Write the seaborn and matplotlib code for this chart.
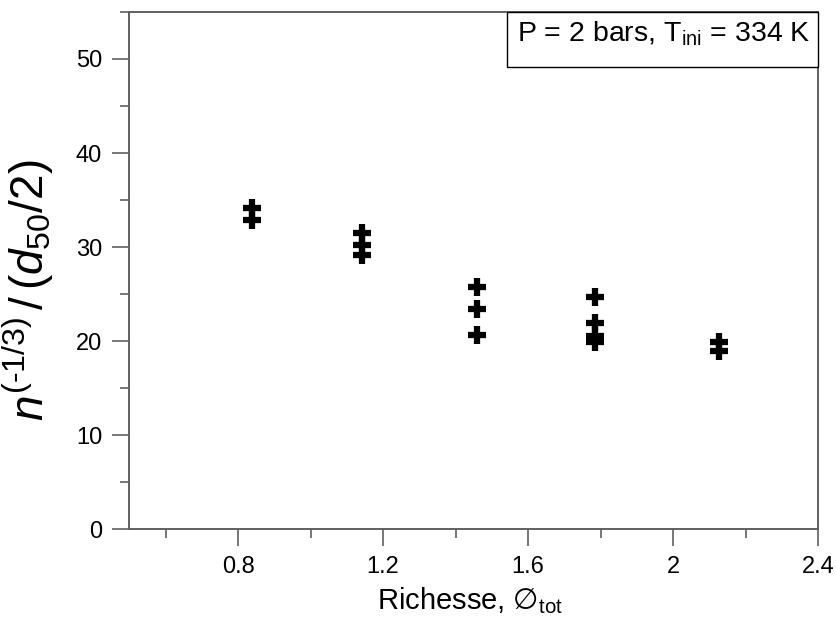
import numpy as np
import pandas as pd
import seaborn as sns
import matplotlib.pyplot as plt
from matplotlib.patches import Rectangle
from matplotlib.ticker import MultipleLocator, FixedLocator

# Values
richesse = [0.838, 0.838,
            1.142, 1.142, 1.142,
            1.458, 1.458, 1.458,
            1.785, 1.785, 1.785, 1.785,
            2.128, 2.128]
rapport = [34.1, 32.9,
           31.5, 30.2, 29.2,
           25.7, 23.4, 20.6,
           24.7, 21.9, 20.5, 19.9,
           19.9, 18.9]
x_ticks = [0.8, 1.2, 1.6, 2.0, 2.4]
x_tick_labels = ['0.8', '1.2', '1.6', '2', '2.4']
x_minor = [0.6, 1.0, 1.4, 1.8, 2.2]
y_ticks = [0, 10, 20, 30, 40, 50]

df = pd.DataFrame({'richesse': richesse, 'rapport': rapport})

sns.set_theme(style='white')
plt.rcParams['font.family'] = ['Liberation Sans', 'DejaVu Sans']
plt.rcParams['mathtext.fontset'] = 'custom'
plt.rcParams['mathtext.rm'] = 'Liberation Sans'
plt.rcParams['mathtext.it'] = 'Liberation Sans:italic'
plt.rcParams['mathtext.bf'] = 'Liberation Sans:bold'
plt.rcParams['mathtext.sf'] = 'DejaVu Sans'
plt.rcParams['text.color'] = 'black'
plt.rcParams['axes.labelcolor'] = 'black'

fig = plt.figure(figsize=(8.36, 6.28), dpi=100)
ax = fig.add_axes([0.1547, 0.1576, 0.8238, 0.8233])

# Draw the points
sns.scatterplot(data=df, x='richesse', y='rapport', marker='+', s=150,
                color='black', linewidth=4.5, ax=ax, legend=False)

ax.set_xlim(0.5, 2.4)
ax.set_ylim(0, 55)

gris = '#606060'
for sp in ax.spines.values():
    sp.set_visible(True)
    sp.set_color(gris)
    sp.set_linewidth(1.4)

ax.set_xticks(x_ticks)
ax.set_xticklabels(x_tick_labels)
ax.xaxis.set_minor_locator(FixedLocator(x_minor))
ax.set_yticks(y_ticks)
ax.yaxis.set_minor_locator(MultipleLocator(5))
ax.tick_params(which='major', direction='out', length=12.5, width=1.2,
               color=gris, labelsize=17, labelcolor='black')
ax.tick_params(axis='x', which='major', pad=7)
ax.tick_params(axis='y', which='major', pad=7)
ax.tick_params(which='minor', direction='out', length=6.3, width=1.2,
               color=gris, bottom=True, left=True)
ax.tick_params(bottom=True, left=True, top=False, right=False)

ax.set_xlabel(r'Richesse, $\mathsf{∅}_{\rm tot}$', fontsize=21)
ax.xaxis.set_label_coords(0.495, -0.108)
ax.set_ylabel(r'$\mathit{n^{(‐1/3)}\,/\,(d_{50}/2)}$', fontsize=33)
ax.yaxis.set_label_coords(-0.106, 0.462)

# Legend box in the top right corner
ax.add_patch(Rectangle((0.548, 0.894), 0.452, 0.106, transform=ax.transAxes,
                       facecolor='white', edgecolor='black', linewidth=1.0,
                       zorder=5, clip_on=False))
ax.text(0.776, 0.942, r'P = 2 bars, T$_{\rm ini}$ = 334 K', transform=ax.transAxes,
        ha='center', va='baseline', fontsize=20.5, color='black', zorder=6)

fig.savefig('out.png', dpi=100)
